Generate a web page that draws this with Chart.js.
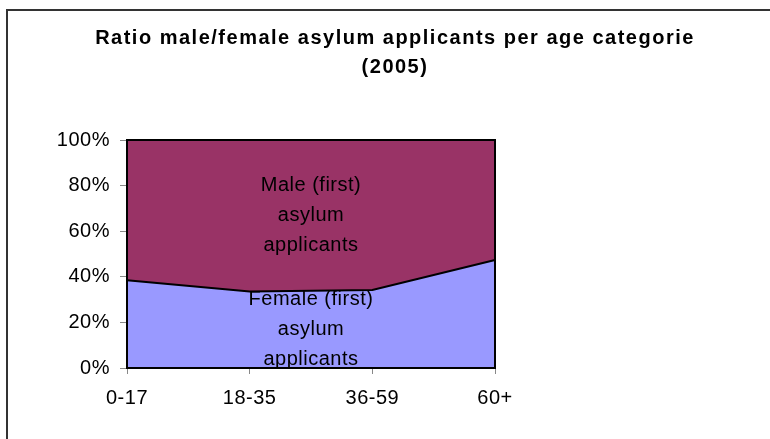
<!DOCTYPE html>
<html>
<head>
<meta charset="utf-8">
<script src="https://cdn.jsdelivr.net/npm/chart.js@4.4.0/dist/chart.umd.min.js"></script>
<style>
  html, body { margin: 0; padding: 0; background: #fff; overflow: hidden; }
  #wrap { width: 770px; height: 439px; position: relative; }
</style>
</head>
<body>
<div id="wrap"><canvas id="ratioChart"></canvas></div>
<script>
// age categories and shares (%)
const ageCategories = ['0-17', '18-35', '36-59', '60+'];
const femaleShare = [38.5, 33.5, 34.2, 47.4];
const maleShare = [61.5, 66.5, 65.8, 52.6];
const yTicks = [0, 20, 40, 60, 80, 100];

const chartTitle = ['Ratio male/female asylum applicants per age categorie', '(2005)'];
const maleLabel = ['Male (first)', 'asylum', 'applicants'];
const femaleLabel = ['Female (first)', 'asylum', 'applicants'];

const fontFamily = '"Liberation Sans", Arial, sans-serif';

// outer frame, title across the whole picture, wider letters like the original
const framePlugin = {
    id: 'frame',
    beforeDraw(chart) {
        const ctx = chart.ctx;
        ctx.letterSpacing = '0.5px';
        ctx.save();
        ctx.strokeStyle = '#333';
        ctx.lineWidth = 2;
        ctx.beginPath();
        ctx.moveTo(7, chart.height);
        ctx.lineTo(7, 10);
        ctx.lineTo(chart.width, 10);
        ctx.stroke();

        ctx.letterSpacing = '1.5px';
        ctx.fillStyle = '#000';
        ctx.font = 'bold 20px ' + fontFamily;
        ctx.textAlign = 'center';
        ctx.textBaseline = 'middle';
        chartTitle.forEach((t, i) => ctx.fillText(t, 395, 38 + i * 29));
        ctx.restore();
    },
    afterDatasetsDraw(chart) {
        const ctx = chart.ctx;
        const a = chart.chartArea;
        ctx.save();
        ctx.strokeStyle = '#000';
        ctx.lineWidth = 2;
        ctx.strokeRect(a.left, a.top, a.right - a.left, a.bottom - a.top);

        // series names written inside the areas
        const x = chart.scales.x;
        const y = chart.scales.y;
        const cx = (x.getPixelForValue(1) + x.getPixelForValue(2)) / 2;
        ctx.fillStyle = '#000';
        ctx.font = '20px ' + fontFamily;
        ctx.textAlign = 'center';
        ctx.textBaseline = 'middle';
        const drawLines = (lines, centerValue) => {
            const cy = y.getPixelForValue(centerValue);
            lines.forEach((t, i) => ctx.fillText(t, cx, cy + (i - 1) * 30));
        };
        drawLines(maleLabel, 67);
        drawLines(femaleLabel, 16.7);
        ctx.restore();
    }
};

const ctx = document.getElementById('ratioChart').getContext('2d');

new Chart(ctx, {
    type: 'line',
    data: {
        labels: ageCategories,
        datasets: [{
            label: 'Female (first) asylum applicants',
            data: femaleShare,
            backgroundColor: '#9999FF',
            borderColor: '#000',
            borderWidth: 2,
            pointRadius: 0,
            fill: 'origin',
            tension: 0
        },
        {
            label: 'Male (first) asylum applicants',
            data: maleShare,
            backgroundColor: '#993366',
            borderColor: '#000',
            borderWidth: 2,
            pointRadius: 0,
            fill: '-1',
            tension: 0
        }]
    },
    options: {
        responsive: true,
        maintainAspectRatio: false,
        animation: false,
        layout: {
            padding: { left: 0, right: 275, top: 140, bottom: 0 }
        },
        scales: {
            x: {
                offset: false,
                grid: {
                    drawOnChartArea: false,
                    tickLength: 6,
                    color: '#888'
                },
                border: { display: false },
                ticks: {
                    color: '#000',
                    padding: 12,
                    maxRotation: 0,
                    font: { family: fontFamily, size: 20 }
                },
                afterFit(scale) { scale.height = 71; }
            },
            y: {
                stacked: true,
                min: 0,
                max: 100,
                afterBuildTicks(scale) {
                    scale.ticks = yTicks.map(v => ({ value: v }));
                },
                grid: {
                    drawOnChartArea: false,
                    tickLength: 7,
                    color: '#888'
                },
                border: { display: false },
                ticks: {
                    color: '#000',
                    padding: 10,
                    font: { family: fontFamily, size: 20 },
                    callback: v => v + '%'
                },
                afterFit(scale) { scale.width = 127; }
            }
        },
        plugins: {
            legend: { display: false },
            tooltip: { enabled: false },
            title: { display: false }
        }
    },
    plugins: [framePlugin]
});
</script>
</body>
</html>
